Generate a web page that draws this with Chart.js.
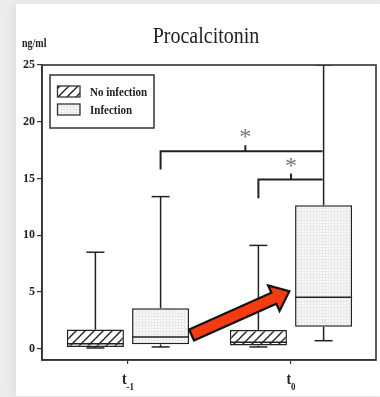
<!DOCTYPE html>
<html>
<head>
<meta charset="utf-8">
<script src="https://cdn.jsdelivr.net/npm/chart.js@4.4.0/dist/chart.umd.min.js"></script>
<style>
  html, body { margin: 0; padding: 0; }
  body { width: 380px; height: 397px; background: #ececec; overflow: hidden; position: relative; }
  #panel { position: absolute; left: 16px; top: 4px; width: 364px; height: 392px; background: #fff; box-shadow: -4px 0 10px rgba(0, 0, 0, 0.06); }
  canvas { display: block; }
</style>
</head>
<body>
<div id="panel"><canvas id="pctChart" width="364" height="392"></canvas></div>
<script>
// time points
const categories = ["t-1", "t0"];
const xLabelMain = ["t", "t"];
const xLabelSub = ["-1", "0"];
const yTicks = [0, 5, 10, 15, 20, 25];

// No infection box stats (per time point)
const noInfMin = [0.06, 0.15];
const noInfQ1 = [0.15, 0.27];
const noInfMedian = [0.44, 0.56];
const noInfQ3 = [1.68, 1.65];
const noInfMax = [8.5, 9.1];

// Infection box stats
const infMin = [0.15, 0.7];
const infQ1 = [0.38, 1.94];
const infMedian = [1.03, 4.53];
const infQ3 = [3.56, 12.63];
const infMax = [13.4, 25];

// significance brackets (y of bar, y where left leg ends, x of the star)
const bracketTop = [17.4, 14.9];
const bracketLeg = [15.8, 13.25];
const starX = [0.72, 1.0];

// red arrow, in data units [x, y]
const arrowFrom = [0.39, 1.2];
const arrowTo = [0.99, 5.06];

const ink = "#222";
const serif = "'Liberation Serif', 'DejaVu Serif', serif";

function makeHatch() {
  const c = document.createElement("canvas");
  c.width = 9;
  c.height = 9;
  const g = c.getContext("2d");
  g.fillStyle = "#fff";
  g.fillRect(0, 0, 9, 9);
  g.strokeStyle = ink;
  g.lineWidth = 1.4;
  g.beginPath();
  g.moveTo(-1, 10);
  g.lineTo(10, -1);
  g.moveTo(-1, 1);
  g.lineTo(1, -1);
  g.moveTo(8, 10);
  g.lineTo(10, 8);
  g.stroke();
  return g.createPattern(c, "repeat");
}

function makeDots() {
  const c = document.createElement("canvas");
  c.width = 3;
  c.height = 3;
  const g = c.getContext("2d");
  g.fillStyle = "#f8f8f8";
  g.fillRect(0, 0, 3, 3);
  g.fillStyle = "#e9e9e9";
  g.fillRect(0, 0, 3, 1);
  g.fillRect(0, 0, 1, 3);
  return g.createPattern(c, "repeat");
}

const hatch = makeHatch();
const dots = makeDots();

// vertically stretched text, the original scan is a bit tall
function stretchText(ctx, text, x, y, font, align) {
  ctx.save();
  ctx.translate(x, y);
  ctx.scale(1, 1.2);
  ctx.font = font;
  ctx.textAlign = align || "left";
  ctx.textBaseline = "alphabetic";
  ctx.fillStyle = ink;
  ctx.fillText(text, 0, 0);
  ctx.restore();
}

function line(ctx, x1, y1, x2, y2) {
  ctx.beginPath();
  ctx.moveTo(x1, y1);
  ctx.lineTo(x2, y2);
  ctx.stroke();
}

const boxStats = [
  { min: noInfMin, q1: noInfQ1, med: noInfMedian, q3: noInfQ3, max: noInfMax },
  { min: infMin, q1: infQ1, med: infMedian, q3: infQ3, max: infMax },
];

// whiskers + medians on top of the floating bars
const boxPlugin = {
  id: "boxExtras",
  afterDatasetsDraw(chart) {
    const ctx = chart.ctx;
    const y = chart.scales.y;
    const area = chart.chartArea;
    ctx.save();
    ctx.beginPath();
    ctx.rect(area.left, area.top, area.width, area.height);
    ctx.clip();
    ctx.strokeStyle = ink;
    ctx.lineWidth = 1.5;
    chart.data.datasets.forEach((ds, di) => {
      const s = boxStats[di];
      chart.getDatasetMeta(di).data.forEach((bar, i) => {
        const half = bar.width / 2;
        const cap = 9;
        const yMax = y.getPixelForValue(s.max[i]);
        const yMin = y.getPixelForValue(s.min[i]);
        line(ctx, bar.x, y.getPixelForValue(s.q3[i]), bar.x, yMax);
        line(ctx, bar.x - cap, yMax, bar.x + cap, yMax);
        line(ctx, bar.x, y.getPixelForValue(s.q1[i]), bar.x, yMin);
        line(ctx, bar.x - cap, yMin, bar.x + cap, yMin);
        const yMed = y.getPixelForValue(s.med[i]);
        line(ctx, bar.x - half, yMed, bar.x + half, yMed);
      });
    });
    ctx.restore();
  },
};

// frame, titles, legend, x labels, brackets, arrow
const decoPlugin = {
  id: "deco",
  afterDraw(chart) {
    const ctx = chart.ctx;
    const area = chart.chartArea;
    const x = chart.scales.x;
    const y = chart.scales.y;

    ctx.save();
    ctx.strokeStyle = "#333";
    ctx.lineWidth = 1.6;
    ctx.strokeRect(area.left, area.top, area.width, area.height);

    // title + unit
    stretchText(ctx, "Procalcitonin", (area.left + area.right) / 2 - 3, 38.7, "20px " + serif, "center");
    stretchText(ctx, "ng/ml", 6, 43, "bold 10px " + serif);

    // x labels with subscript
    categories.forEach((c, i) => {
      const px = x.getPixelForValue(i);
      ctx.font = "bold 14px " + serif;
      const w1 = ctx.measureText(xLabelMain[i]).width;
      ctx.font = "bold 9px " + serif;
      const w2 = ctx.measureText(xLabelSub[i]).width;
      const left = px - (w1 + w2) / 2;
      stretchText(ctx, xLabelMain[i], left, 380, "bold 14px " + serif);
      stretchText(ctx, xLabelSub[i], left + w1, 386, "bold 9px " + serif);
    });

    // legend
    const lx = area.left + 8;
    const ly = area.top + 10;
    ctx.lineWidth = 1.5;
    ctx.strokeStyle = "#333";
    ctx.strokeRect(lx, ly, 104, 53);
    const swatch = [hatch, dots];
    const rowTop = [21, 39];
    chart.data.datasets.forEach((ds, di) => {
      ctx.fillStyle = swatch[di];
      ctx.fillRect(area.left + 15.5, area.top + rowTop[di], 22.5, 11);
      ctx.lineWidth = 1.3;
      ctx.strokeRect(area.left + 15.5, area.top + rowTop[di], 22.5, 11);
      stretchText(ctx, ds.label, area.left + 48, area.top + rowTop[di] + 10, "bold 11px " + serif);
    });

    // significance brackets
    const barX = (di, i) => chart.getDatasetMeta(di).data[i].x;
    const ends = [
      [barX(1, 0), barX(1, 1)],
      [barX(0, 1), barX(1, 1)],
    ];
    ctx.strokeStyle = ink;
    ctx.lineWidth = 2;
    bracketTop.forEach((v, k) => {
      const yb = y.getPixelForValue(v);
      const yl = y.getPixelForValue(bracketLeg[k]);
      const sx = x.getPixelForValue(starX[k]);
      ctx.beginPath();
      ctx.moveTo(ends[k][0], yl);
      ctx.lineTo(ends[k][0], yb);
      ctx.lineTo(ends[k][1] - 1, yb);
      ctx.stroke();
      line(ctx, sx, yb, sx, yb - 6);
      ctx.font = "24px " + serif;
      ctx.textAlign = "center";
      ctx.textBaseline = "alphabetic";
      ctx.fillStyle = "#777";
      ctx.fillText("*", sx, yb - 7);
    });

    // red arrow
    const p0 = [x.getPixelForValue(arrowFrom[0]), y.getPixelForValue(arrowFrom[1])];
    const p1 = [x.getPixelForValue(arrowTo[0]), y.getPixelForValue(arrowTo[1])];
    const dx = p1[0] - p0[0];
    const dy = p1[1] - p0[1];
    const len = Math.hypot(dx, dy);
    const u = [dx / len, dy / len];
    const n = [-u[1], u[0]];
    const shaft = 6, head = 14, headLen = 17;
    const b = [p1[0] - u[0] * headLen, p1[1] - u[1] * headLen];
    const pt = (p, s) => [p[0] + n[0] * s, p[1] + n[1] * s];
    const poly = [pt(p0, shaft), pt(b, shaft), pt(b, head), p1, pt(b, -head), pt(b, -shaft), pt(p0, -shaft)];
    ctx.beginPath();
    poly.forEach((p, k) => (k ? ctx.lineTo(p[0], p[1]) : ctx.moveTo(p[0], p[1])));
    ctx.closePath();
    ctx.fillStyle = "#f53b12";
    ctx.fill();
    ctx.lineJoin = "miter";
    ctx.lineWidth = 2.2;
    ctx.strokeStyle = "#111";
    ctx.stroke();
    ctx.restore();
  },
};

const ctx = document.getElementById("pctChart").getContext("2d");

new Chart(ctx, {
  type: "bar",
  data: {
    datasets: [
      {
        label: "No infection",
        data: categories.map((c, i) => ({ x: i, y: [noInfQ1[i], noInfQ3[i]] })),
        backgroundColor: hatch,
        borderColor: ink,
        borderWidth: 1.5,
        borderSkipped: false,
      },
      {
        label: "Infection",
        data: categories.map((c, i) => ({ x: i, y: [infQ1[i], infQ3[i]] })),
        backgroundColor: dots,
        borderColor: ink,
        borderWidth: 1.5,
        borderSkipped: false,
      },
    ],
  },
  options: {
    responsive: false,
    animation: false,
    categoryPercentage: 0.8,
    barPercentage: 0.875,
    layout: { padding: { top: 61, right: 4, left: 0, bottom: 0 } },
    plugins: { legend: { display: false }, tooltip: { enabled: false } },
    scales: {
      x: {
        type: "linear",
        min: -0.5276,
        max: 1.5215,
        offset: false,
        afterBuildTicks: (axis) => {
          axis.ticks = categories.map((c, i) => ({ value: i }));
        },
        afterFit: (s) => {
          s.height = 36;
        },
        ticks: { callback: () => "", padding: 0 },
        grid: { offset: false, drawOnChartArea: false, drawTicks: true, tickLength: 4, color: "#333", lineWidth: 1.2 },
        border: { display: true, color: "#333", width: 1.6 },
      },
      y: {
        min: -1,
        max: 25,
        afterBuildTicks: (axis) => {
          axis.ticks = yTicks.map((v) => ({ value: v }));
        },
        afterFit: (s) => {
          s.width = 26;
        },
        ticks: { color: ink, padding: 2, font: { family: serif, size: 12, weight: "bold" } },
        grid: { drawOnChartArea: false, drawTicks: true, tickLength: 5, color: "#333", lineWidth: 1.2 },
        border: { display: true, color: "#333", width: 1.6 },
      },
    },
  },
  plugins: [boxPlugin, decoPlugin],
});
</script>
</body>
</html>
